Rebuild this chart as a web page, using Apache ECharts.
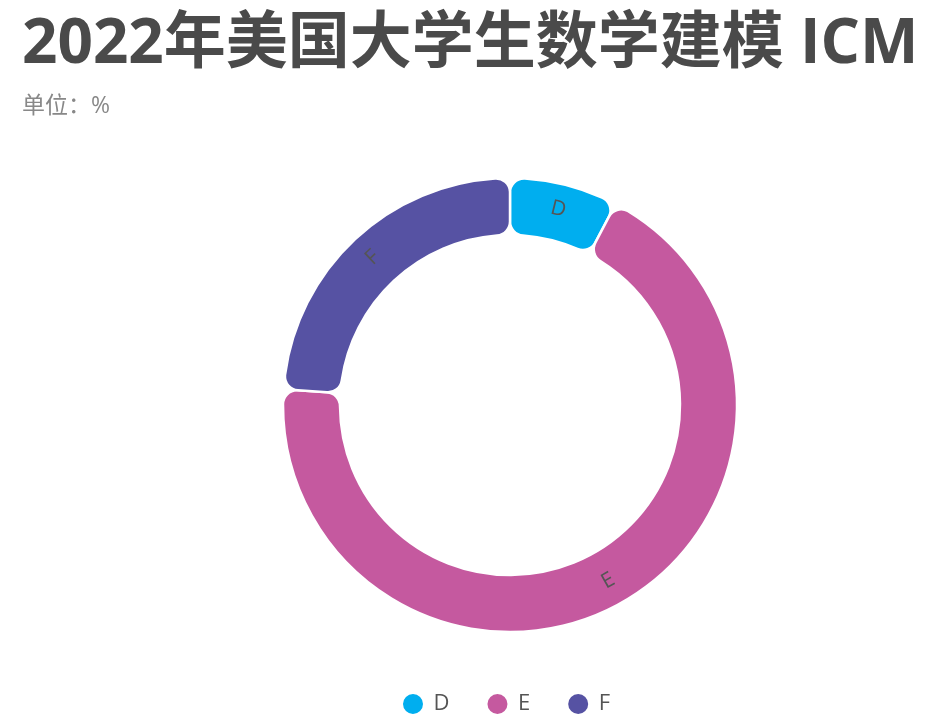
<!DOCTYPE html>
<html>
<head>
<meta charset="utf-8">
<script src="https://cdn.jsdelivr.net/npm/echarts@6/dist/echarts.min.js"></script>
<style>
html, body { margin: 0; padding: 0; background: #fff; }
#chart { width: 941px; height: 728px; }
</style>
</head>
<body>
<div id="chart"></div>
<script>
var names = ["D", "E", "F"];
var values = [7.7, 68.4, 23.9];
var colors = ["#00AEEF", "#C5599F", "#5652A3"];

var e = echarts.init(document.getElementById("chart"));
var font = "'Open Sans', 'Noto Sans CJK SC', sans-serif";

var a = {
    color: colors,
    title: {
        text: "2022年美国大学生数学建模 ICM",
        subtext: "单位：%",
        left: 17,
        top: 9,
        itemGap: 19,
        textStyle: {
            fontFamily: font,
            fontSize: 62,
            fontWeight: "bold",
            color: "#4a4a4a"
        },
        subtextStyle: {
            fontFamily: font,
            fontSize: 23,
            color: "#888"
        }
    },
    legend: {
        bottom: 7,
        left: 396,
        icon: "circle",
        itemWidth: 31,
        itemHeight: 22,
        itemGap: 36,
        data: names,
        textStyle: {
            fontFamily: font,
            fontSize: 22,
            color: "#555"
        }
    },
    series: [{
        type: "pie",
        center: [510, 405],
        radius: [170, 227],
        startAngle: 90,
        clockwise: true,
        avoidLabelOverlap: false,
        itemStyle: {
            borderRadius: 14,
            borderColor: "#fff",
            borderWidth: 2.5
        },
        label: {
            show: true,
            position: "inside",
            rotate: "tangential",
            formatter: "{b}",
            fontFamily: font,
            fontSize: 21,
            color: "#555"
        },
        labelLine: { show: false },
        data: names.map(function(n, i) {
            return { name: n, value: values[i] };
        })
    }]
};
e.setOption(a);
</script>
</body>
</html>
